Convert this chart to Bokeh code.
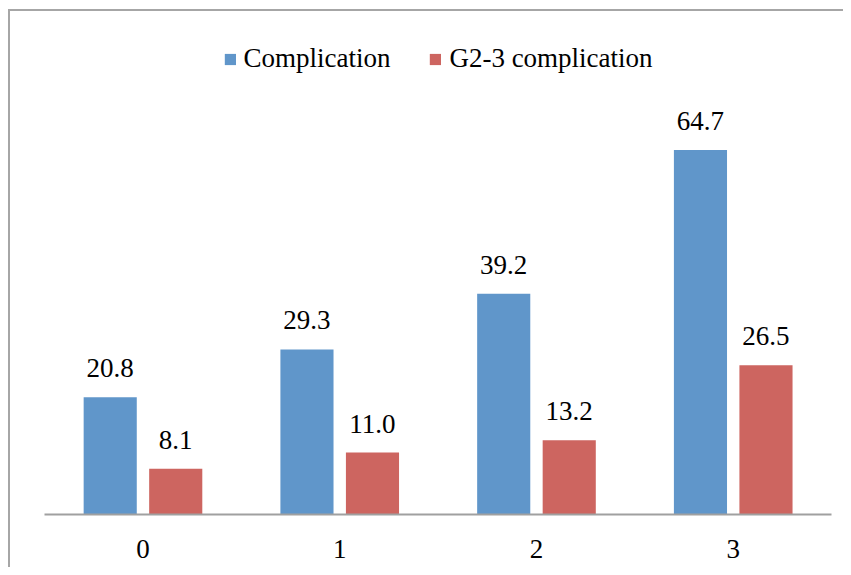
from bokeh.plotting import figure
from bokeh.models import (FactorRange, Range1d, ColumnDataSource, Legend, LegendItem,
                          InlineStyleSheet)
from bokeh.transform import dodge
from bokeh.core.properties import value
from bokeh.embed import file_html
from bokeh.resources import INLINE

categories = ["0", "1", "2", "3"]
series_names = ["Complication", "G2-3 complication"]
complication = [20.8, 29.3, 39.2, 64.7]
g23_complication = [8.1, 11.0, 13.2, 26.5]

BLUE = "#6096CA"
RED = "#CD6560"
FRAME = "#A6A6A6"
FONT = "Liberation Serif"
FS = "27px"

src = ColumnDataSource(dict(
    cat=categories,
    comp=complication,
    g23=g23_complication,
    comp_lbl=[f"{v:.1f}" for v in complication],
    g23_lbl=[f"{v:.1f}" for v in g23_complication],
))

p = figure(x_range=FactorRange(*categories), y_range=Range1d(0, 87.7),
           width=843, height=567, output_backend="svg", toolbar_location=None,
           min_border_left=44, min_border_right=12, min_border_top=20,
           min_border_bottom=53)
p.outline_line_color = None
p.stylesheets = [InlineStyleSheet(css=f"""
:host {{ overflow: hidden; }}
:host::after {{
  content: "";
  position: absolute;
  left: 8px; top: 9px;
  width: 3000px; height: 3000px;
  border-left: 2px solid {FRAME};
  border-top: 2px solid {FRAME};
  pointer-events: none;
}}
""")]
p.xgrid.visible = False
p.ygrid.visible = False
p.yaxis.visible = False

ax = p.xaxis[0]
ax.axis_line_color = "#A0A0A0"
ax.axis_line_width = 2
ax.major_tick_line_color = None
ax.minor_tick_line_color = None
ax.major_tick_out = 0
ax.major_tick_in = 0
ax.major_label_standoff = 25
ax.major_label_text_font = FONT
ax.major_label_text_font_size = FS
ax.major_label_text_color = "#000000"

r1 = p.vbar(x=dodge("cat", -0.166, range=p.x_range), top="comp", width=0.27,
            source=src, fill_color=BLUE, line_color=None)
r2 = p.vbar(x=dodge("cat", 0.167, range=p.x_range), top="g23", width=0.27,
            source=src, fill_color=RED, line_color=None)

p.text(x=dodge("cat", -0.166, range=p.x_range), y="comp", text="comp_lbl", source=src,
       text_align="center", text_baseline="alphabetic", y_offset=-29,
       text_font=value(FONT), text_font_size=FS, text_color="#000000")
p.text(x=dodge("cat", 0.167, range=p.x_range), y="g23", text="g23_lbl", source=src,
       text_align="center", text_baseline="alphabetic", y_offset=-29,
       text_font=value(FONT), text_font_size=FS, text_color="#000000")

legend = Legend(items=[LegendItem(label=series_names[0], renderers=[r1]),
                       LegendItem(label=series_names[1], renderers=[r2])],
                orientation="horizontal", location="top_center",
                glyph_width=14, glyph_height=14, label_standoff=7, spacing=38,
                padding=0, margin=23, border_line_color=None,
                background_fill_alpha=0,
                label_text_font=FONT, label_text_font_size=FS,
                label_text_color="#000000")
p.add_layout(legend, "center")

open("out.html", "w").write(file_html(p, INLINE))
